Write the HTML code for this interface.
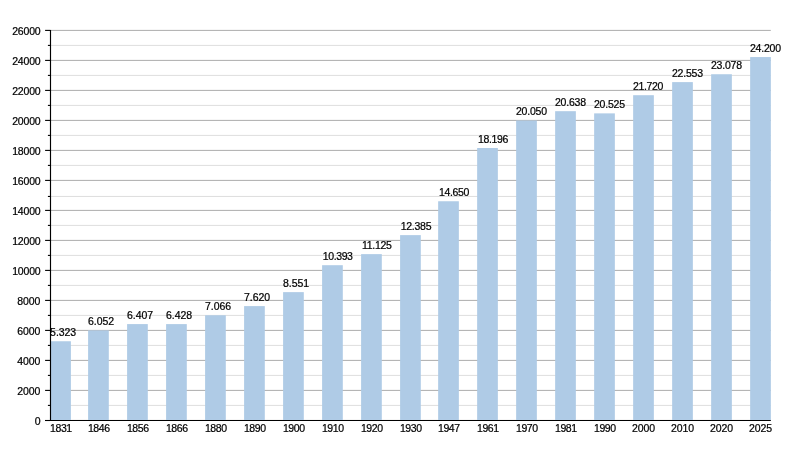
<!DOCTYPE html>
<html><head><meta charset="utf-8"><title>Chart</title>
<style>
html,body{margin:0;padding:0;background:#fff;}
body{width:800px;height:450px;overflow:hidden;}
svg{display:block;will-change:transform;}
text{font-family:"Liberation Sans",sans-serif;font-size:10.5px;fill:#000;stroke:#000;stroke-width:0.22px;}
</style></head><body>
<svg width="800" height="450" viewBox="0 0 800 450">
<rect width="800" height="450" fill="#fff"/>

<line x1="50.5" x2="770.8" y1="420.40" y2="420.40" stroke="#adadad" stroke-width="1"/>
<line x1="50.5" x2="770.8" y1="405.40" y2="405.40" stroke="#dedede" stroke-width="1"/>
<line x1="50.5" x2="770.8" y1="390.40" y2="390.40" stroke="#adadad" stroke-width="1"/>
<line x1="50.5" x2="770.8" y1="375.40" y2="375.40" stroke="#dedede" stroke-width="1"/>
<line x1="50.5" x2="770.8" y1="360.40" y2="360.40" stroke="#adadad" stroke-width="1"/>
<line x1="50.5" x2="770.8" y1="345.40" y2="345.40" stroke="#dedede" stroke-width="1"/>
<line x1="50.5" x2="770.8" y1="330.40" y2="330.40" stroke="#adadad" stroke-width="1"/>
<line x1="50.5" x2="770.8" y1="315.40" y2="315.40" stroke="#dedede" stroke-width="1"/>
<line x1="50.5" x2="770.8" y1="300.40" y2="300.40" stroke="#adadad" stroke-width="1"/>
<line x1="50.5" x2="770.8" y1="285.40" y2="285.40" stroke="#dedede" stroke-width="1"/>
<line x1="50.5" x2="770.8" y1="270.40" y2="270.40" stroke="#adadad" stroke-width="1"/>
<line x1="50.5" x2="770.8" y1="255.40" y2="255.40" stroke="#dedede" stroke-width="1"/>
<line x1="50.5" x2="770.8" y1="240.40" y2="240.40" stroke="#adadad" stroke-width="1"/>
<line x1="50.5" x2="770.8" y1="225.40" y2="225.40" stroke="#dedede" stroke-width="1"/>
<line x1="50.5" x2="770.8" y1="210.40" y2="210.40" stroke="#adadad" stroke-width="1"/>
<line x1="50.5" x2="770.8" y1="196.45" y2="196.45" stroke="#dedede" stroke-width="1"/>
<line x1="50.5" x2="770.8" y1="180.40" y2="180.40" stroke="#adadad" stroke-width="1"/>
<line x1="50.5" x2="770.8" y1="165.40" y2="165.40" stroke="#dedede" stroke-width="1"/>
<line x1="50.5" x2="770.8" y1="150.40" y2="150.40" stroke="#adadad" stroke-width="1"/>
<line x1="50.5" x2="770.8" y1="135.40" y2="135.40" stroke="#dedede" stroke-width="1"/>
<line x1="50.5" x2="770.8" y1="120.40" y2="120.40" stroke="#adadad" stroke-width="1"/>
<line x1="50.5" x2="770.8" y1="105.40" y2="105.40" stroke="#dedede" stroke-width="1"/>
<line x1="50.5" x2="770.8" y1="90.40" y2="90.40" stroke="#adadad" stroke-width="1"/>
<line x1="50.5" x2="770.8" y1="75.40" y2="75.40" stroke="#dedede" stroke-width="1"/>
<line x1="50.5" x2="770.8" y1="60.40" y2="60.40" stroke="#adadad" stroke-width="1"/>
<line x1="50.5" x2="770.8" y1="45.40" y2="45.40" stroke="#dedede" stroke-width="1"/>
<line x1="50.5" x2="770.8" y1="30.40" y2="30.40" stroke="#adadad" stroke-width="1"/>
<rect x="50.20" y="341.25" width="20.7" height="79.15" fill="#afcbe6"/>
<rect x="88.10" y="330.40" width="20.7" height="90.00" fill="#afcbe6"/>
<rect x="127.10" y="324.09" width="20.7" height="96.31" fill="#afcbe6"/>
<rect x="166.10" y="324.10" width="20.7" height="96.30" fill="#afcbe6"/>
<rect x="205.10" y="315.26" width="20.7" height="105.14" fill="#afcbe6"/>
<rect x="244.10" y="306.10" width="20.7" height="114.30" fill="#afcbe6"/>
<rect x="283.10" y="292.13" width="20.7" height="128.26" fill="#afcbe6"/>
<rect x="322.10" y="265.20" width="20.7" height="155.19" fill="#afcbe6"/>
<rect x="361.10" y="254.12" width="20.7" height="166.28" fill="#afcbe6"/>
<rect x="400.10" y="235.12" width="20.7" height="185.28" fill="#afcbe6"/>
<rect x="438.15" y="201.25" width="20.7" height="219.15" fill="#afcbe6"/>
<rect x="477.15" y="148.01" width="20.7" height="272.39" fill="#afcbe6"/>
<rect x="516.15" y="120.50" width="20.7" height="299.90" fill="#afcbe6"/>
<rect x="555.15" y="111.18" width="20.7" height="309.22" fill="#afcbe6"/>
<rect x="594.15" y="113.37" width="20.7" height="307.02" fill="#afcbe6"/>
<rect x="633.15" y="95.20" width="20.7" height="325.20" fill="#afcbe6"/>
<rect x="672.15" y="82.11" width="20.7" height="338.29" fill="#afcbe6"/>
<rect x="711.15" y="74.23" width="20.7" height="346.17" fill="#afcbe6"/>
<rect x="750.15" y="57.05" width="20.7" height="363.35" fill="#afcbe6"/>
<line x1="50.5" x2="50.5" y1="29.9" y2="421" stroke="#000" stroke-width="1.15"/>
<line x1="45" x2="770.8" y1="420.50" y2="420.50" stroke="#000" stroke-width="1.1"/>
<line x1="45.1" x2="50.5" y1="420.50" y2="420.50" stroke="#000" stroke-width="1.1"/>
<text x="40.45" y="424.70" text-anchor="end" letter-spacing="-0.03">0</text>
<line x1="47.9" x2="50.5" y1="405.40" y2="405.40" stroke="#000" stroke-width="1.1"/>
<line x1="45.1" x2="50.5" y1="390.40" y2="390.40" stroke="#000" stroke-width="1.1"/>
<text x="40.45" y="394.70" text-anchor="end" letter-spacing="-0.03">2000</text>
<line x1="47.9" x2="50.5" y1="375.40" y2="375.40" stroke="#000" stroke-width="1.1"/>
<line x1="45.1" x2="50.5" y1="360.40" y2="360.40" stroke="#000" stroke-width="1.1"/>
<text x="40.45" y="364.70" text-anchor="end" letter-spacing="-0.03">4000</text>
<line x1="47.9" x2="50.5" y1="345.40" y2="345.40" stroke="#000" stroke-width="1.1"/>
<line x1="45.1" x2="50.5" y1="330.40" y2="330.40" stroke="#000" stroke-width="1.1"/>
<text x="40.45" y="334.70" text-anchor="end" letter-spacing="-0.03">6000</text>
<line x1="47.9" x2="50.5" y1="315.40" y2="315.40" stroke="#000" stroke-width="1.1"/>
<line x1="45.1" x2="50.5" y1="300.40" y2="300.40" stroke="#000" stroke-width="1.1"/>
<text x="40.45" y="304.70" text-anchor="end" letter-spacing="-0.03">8000</text>
<line x1="47.9" x2="50.5" y1="285.40" y2="285.40" stroke="#000" stroke-width="1.1"/>
<line x1="45.1" x2="50.5" y1="270.40" y2="270.40" stroke="#000" stroke-width="1.1"/>
<text x="40.45" y="274.70" text-anchor="end" letter-spacing="-0.2">10000</text>
<line x1="47.9" x2="50.5" y1="255.40" y2="255.40" stroke="#000" stroke-width="1.1"/>
<line x1="45.1" x2="50.5" y1="240.40" y2="240.40" stroke="#000" stroke-width="1.1"/>
<text x="40.45" y="244.70" text-anchor="end" letter-spacing="-0.2">12000</text>
<line x1="47.9" x2="50.5" y1="225.40" y2="225.40" stroke="#000" stroke-width="1.1"/>
<line x1="45.1" x2="50.5" y1="210.40" y2="210.40" stroke="#000" stroke-width="1.1"/>
<text x="40.45" y="214.70" text-anchor="end" letter-spacing="-0.2">14000</text>
<line x1="47.9" x2="50.5" y1="196.45" y2="196.45" stroke="#000" stroke-width="1.1"/>
<line x1="45.1" x2="50.5" y1="180.40" y2="180.40" stroke="#000" stroke-width="1.1"/>
<text x="40.45" y="184.70" text-anchor="end" letter-spacing="-0.2">16000</text>
<line x1="47.9" x2="50.5" y1="165.40" y2="165.40" stroke="#000" stroke-width="1.1"/>
<line x1="45.1" x2="50.5" y1="150.40" y2="150.40" stroke="#000" stroke-width="1.1"/>
<text x="40.45" y="154.70" text-anchor="end" letter-spacing="-0.2">18000</text>
<line x1="47.9" x2="50.5" y1="135.40" y2="135.40" stroke="#000" stroke-width="1.1"/>
<line x1="45.1" x2="50.5" y1="120.40" y2="120.40" stroke="#000" stroke-width="1.1"/>
<text x="40.45" y="124.70" text-anchor="end" letter-spacing="-0.2">20000</text>
<line x1="47.9" x2="50.5" y1="105.40" y2="105.40" stroke="#000" stroke-width="1.1"/>
<line x1="45.1" x2="50.5" y1="90.40" y2="90.40" stroke="#000" stroke-width="1.1"/>
<text x="40.45" y="94.70" text-anchor="end" letter-spacing="-0.2">22000</text>
<line x1="47.9" x2="50.5" y1="75.40" y2="75.40" stroke="#000" stroke-width="1.1"/>
<line x1="45.1" x2="50.5" y1="60.40" y2="60.40" stroke="#000" stroke-width="1.1"/>
<text x="40.45" y="64.70" text-anchor="end" letter-spacing="-0.2">24000</text>
<line x1="47.9" x2="50.5" y1="45.40" y2="45.40" stroke="#000" stroke-width="1.1"/>
<line x1="45.1" x2="50.5" y1="30.40" y2="30.40" stroke="#000" stroke-width="1.1"/>
<text x="40.45" y="34.70" text-anchor="end" letter-spacing="-0.2">26000</text>
<text x="50.10" y="336.25" letter-spacing="-0.05">5.323</text>
<text x="60.90" y="432" text-anchor="middle" letter-spacing="-0.4">1831</text>
<text x="88.00" y="325.32" letter-spacing="-0.05">6.052</text>
<text x="98.80" y="432" text-anchor="middle" letter-spacing="-0.4">1846</text>
<text x="127.00" y="318.99" letter-spacing="-0.05">6.407</text>
<text x="137.80" y="432" text-anchor="middle" letter-spacing="-0.4">1856</text>
<text x="166.00" y="318.78" letter-spacing="-0.05">6.428</text>
<text x="176.80" y="432" text-anchor="middle" letter-spacing="-0.4">1866</text>
<text x="205.00" y="310.01" letter-spacing="-0.05">7.066</text>
<text x="215.80" y="432" text-anchor="middle" letter-spacing="-0.4">1880</text>
<text x="244.00" y="300.80" letter-spacing="-0.05">7.620</text>
<text x="254.80" y="432" text-anchor="middle" letter-spacing="-0.4">1890</text>
<text x="283.00" y="286.83" letter-spacing="-0.05">8.551</text>
<text x="293.80" y="432" text-anchor="middle" letter-spacing="-0.4">1900</text>
<text x="322.80" y="260.40" letter-spacing="-0.4">10.393</text>
<text x="332.80" y="432" text-anchor="middle" letter-spacing="-0.4">1910</text>
<text x="362.00" y="249.12" letter-spacing="-0.28">11.125</text>
<text x="371.80" y="432" text-anchor="middle" letter-spacing="-0.4">1920</text>
<text x="400.70" y="229.92" letter-spacing="-0.25">12.385</text>
<text x="410.80" y="432" text-anchor="middle" letter-spacing="-0.4">1930</text>
<text x="438.95" y="196.45" letter-spacing="-0.35">14.650</text>
<text x="448.85" y="432" text-anchor="middle" letter-spacing="-0.4">1947</text>
<text x="477.95" y="143.06" letter-spacing="-0.35">18.196</text>
<text x="487.85" y="432" text-anchor="middle" letter-spacing="-0.4">1961</text>
<text x="515.95" y="115.45" letter-spacing="-0.2">20.050</text>
<text x="526.85" y="432" text-anchor="middle" letter-spacing="-0.4">1970</text>
<text x="554.95" y="105.53" letter-spacing="-0.2">20.638</text>
<text x="565.85" y="432" text-anchor="middle" letter-spacing="-0.4">1981</text>
<text x="593.95" y="108.02" letter-spacing="-0.2">20.525</text>
<text x="604.85" y="432" text-anchor="middle" letter-spacing="-0.4">1990</text>
<text x="633.05" y="90.20" letter-spacing="-0.38">21.720</text>
<text x="643.40" y="432" text-anchor="middle" letter-spacing="-0.1">2000</text>
<text x="671.95" y="76.81" letter-spacing="-0.2">22.553</text>
<text x="682.40" y="432" text-anchor="middle" letter-spacing="-0.1">2010</text>
<text x="710.95" y="68.93" letter-spacing="-0.2">23.078</text>
<text x="721.40" y="432" text-anchor="middle" letter-spacing="-0.1">2020</text>
<text x="749.95" y="52.10" letter-spacing="-0.2">24.200</text>
<text x="760.40" y="432" text-anchor="middle" letter-spacing="-0.1">2025</text>
</svg></body></html>
